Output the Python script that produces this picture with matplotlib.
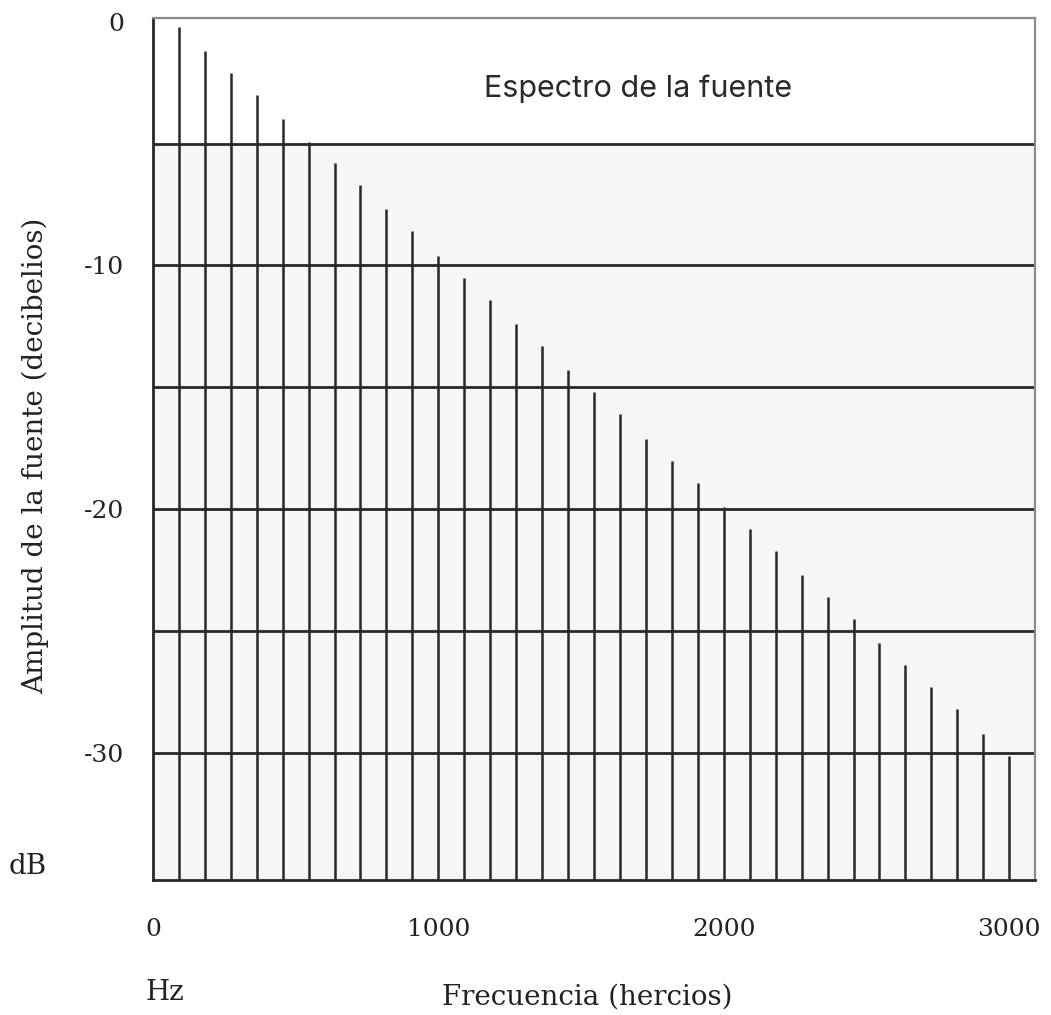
import matplotlib
matplotlib.use("Agg")
import matplotlib.pyplot as plt

# armonicos de la fuente (Hz) y su amplitud (dB)
freqs = [91, 182, 273, 364, 455, 545, 636, 727, 818, 909, 1000,
         1091, 1182, 1273, 1364, 1455, 1545, 1636, 1727, 1818, 1909, 2000,
         2091, 2182, 2273, 2364, 2455, 2545, 2636, 2727, 2818, 2909, 3000]
amps = [-0.2, -1.2, -2.1, -3.0, -4.0, -4.95, -5.8, -6.7, -7.7, -8.6, -9.6,
        -10.5, -11.4, -12.4, -13.3, -14.3, -15.2, -16.1, -17.1, -18.0, -18.9, -19.9,
        -20.8, -21.7, -22.7, -23.6, -24.5, -25.5, -26.4, -27.3, -28.2, -29.2, -30.1]

x_ticks = [0, 1000, 2000, 3000]
y_ticks = [0, -10, -20, -30]
grid_levels = [-5, -10, -15, -20, -25, -30]

SERIF = "DejaVu Serif"
LINE = "#282828"
TXT = "#222222"

plt.rcParams['axes.unicode_minus'] = False

fig = plt.figure(figsize=(10.51, 10.15), dpi=100)
ax = fig.add_axes([0.1456, 0.1330, 0.8392, 0.8493])

ax.set_xlim(0, 3091)
ax.set_ylim(-35.2, 0.15)

# zona gris bajo -5 dB
ax.axhspan(-35.2, -5, color="#f6f6f6", zorder=0)

for lvl in grid_levels:
    ax.axhline(lvl, color=LINE, lw=2.0, zorder=1)

ax.vlines(freqs, -35.2, amps, color=LINE, lw=1.8, zorder=2)

ax.set_xticks(x_ticks)
ax.set_xticklabels([str(t) for t in x_ticks], fontfamily=SERIF, fontsize=18)
ax.set_yticks(y_ticks)
ax.set_yticklabels([str(t) for t in y_ticks], fontfamily=SERIF, fontsize=18)
ax.tick_params(axis='x', length=0, pad=27, colors=TXT)
ax.tick_params(axis='y', length=0, pad=21, colors=TXT)

for side in ['left', 'bottom']:
    ax.spines[side].set_color(LINE)
    ax.spines[side].set_linewidth(2.0)
for side in ['top', 'right']:
    ax.spines[side].set_color("#8a8a8a")
    ax.spines[side].set_linewidth(1.6)

ax.text(1700, -2.75, "Espectro de la fuente", fontfamily="Inter", fontsize=22,
        color="#2a2a2a", ha="center", va="center")

fig.text(0.034, 0.551, "Amplitud de la fuente (decibelios)", rotation=90,
         fontfamily=SERIF, fontsize=20, color=TXT, ha="center", va="center")
fig.text(0.559, 0.018, "Frecuencia (hercios)", fontfamily=SERIF, fontsize=20,
         color=TXT, ha="center", va="center")
fig.text(0.026, 0.146, "dB", fontfamily=SERIF, fontsize=20,
         color=TXT, ha="center", va="center")
fig.text(0.157, 0.022, "Hz", fontfamily=SERIF, fontsize=20,
         color=TXT, ha="center", va="center")

fig.savefig("out.png", dpi=100)
